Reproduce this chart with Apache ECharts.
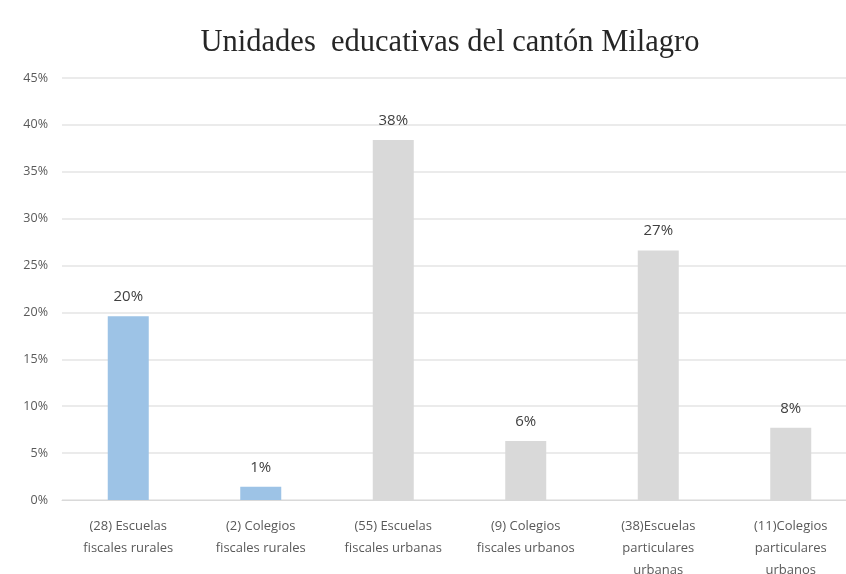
<!DOCTYPE html>
<html>
<head>
<meta charset="utf-8">
<script src="https://cdn.jsdelivr.net/npm/echarts@6/dist/echarts.min.js"></script>
<style>html,body{margin:0;padding:0;background:#fff;}#c{width:846px;height:574px;}</style>
</head>
<body>
<div id="c"></div>
<script>
var categories = [
  "(28) Escuelas\nfiscales rurales",
  "(2) Colegios\nfiscales rurales",
  "(55) Escuelas\nfiscales urbanas",
  "(9) Colegios\nfiscales urbanos",
  "(38)Escuelas\nparticulares\nurbanas",
  "(11)Colegios\nparticulares\nurbanos"
];
var values = [19.6, 1.4, 38.4, 6.3, 26.6, 7.7];
var barColors = ["#9DC3E6", "#9DC3E6", "#D9D9D9", "#D9D9D9", "#D9D9D9", "#D9D9D9"];
var chart = echarts.init(document.getElementById('c'));
chart.setOption({
  animation: false,
  title: {
    text: "Unidades  educativas del cantón Milagro",
    left: 445, top: 22, textAlign: 'center',
    textStyle: {fontFamily: 'Liberation Serif', fontSize: 30.5, fontWeight: 'normal', color: '#262626'}
  },
  grid: {left: 62, top: 78, width: 795, height: 422, containLabel: false, outerBoundsMode: 'none'},
  xAxis: {
    type: 'category', data: categories,
    axisLine: {lineStyle: {color: '#D9D9D9'}},
    axisTick: {show: false},
    axisLabel: {interval: 0, color: '#595959', fontFamily: 'Open Sans', fontSize: 13, lineHeight: 22, margin: 15}
  },
  yAxis: {
    type: 'value', min: 0, max: 45, interval: 5,
    axisLabel: {formatter: '{value}%', color: '#595959', fontFamily: 'Open Sans', fontSize: 12.5, margin: 14},
    splitLine: {lineStyle: {color: '#E4E4E4', width: 1.5}},
    axisLine: {show: false}, axisTick: {show: false}
  },
  series: [{
    type: 'bar', barWidth: 41,
    data: values.map(function(v, i){ return {value: v, itemStyle: {color: barColors[i]}}; }),
    label: {show: true, position: 'top', distance: 12, formatter: function(p){ return Math.round(p.value) + '%'; },
            color: '#404040', fontFamily: 'Open Sans', fontSize: 15}
  }]
});
</script>
</body>
</html>
